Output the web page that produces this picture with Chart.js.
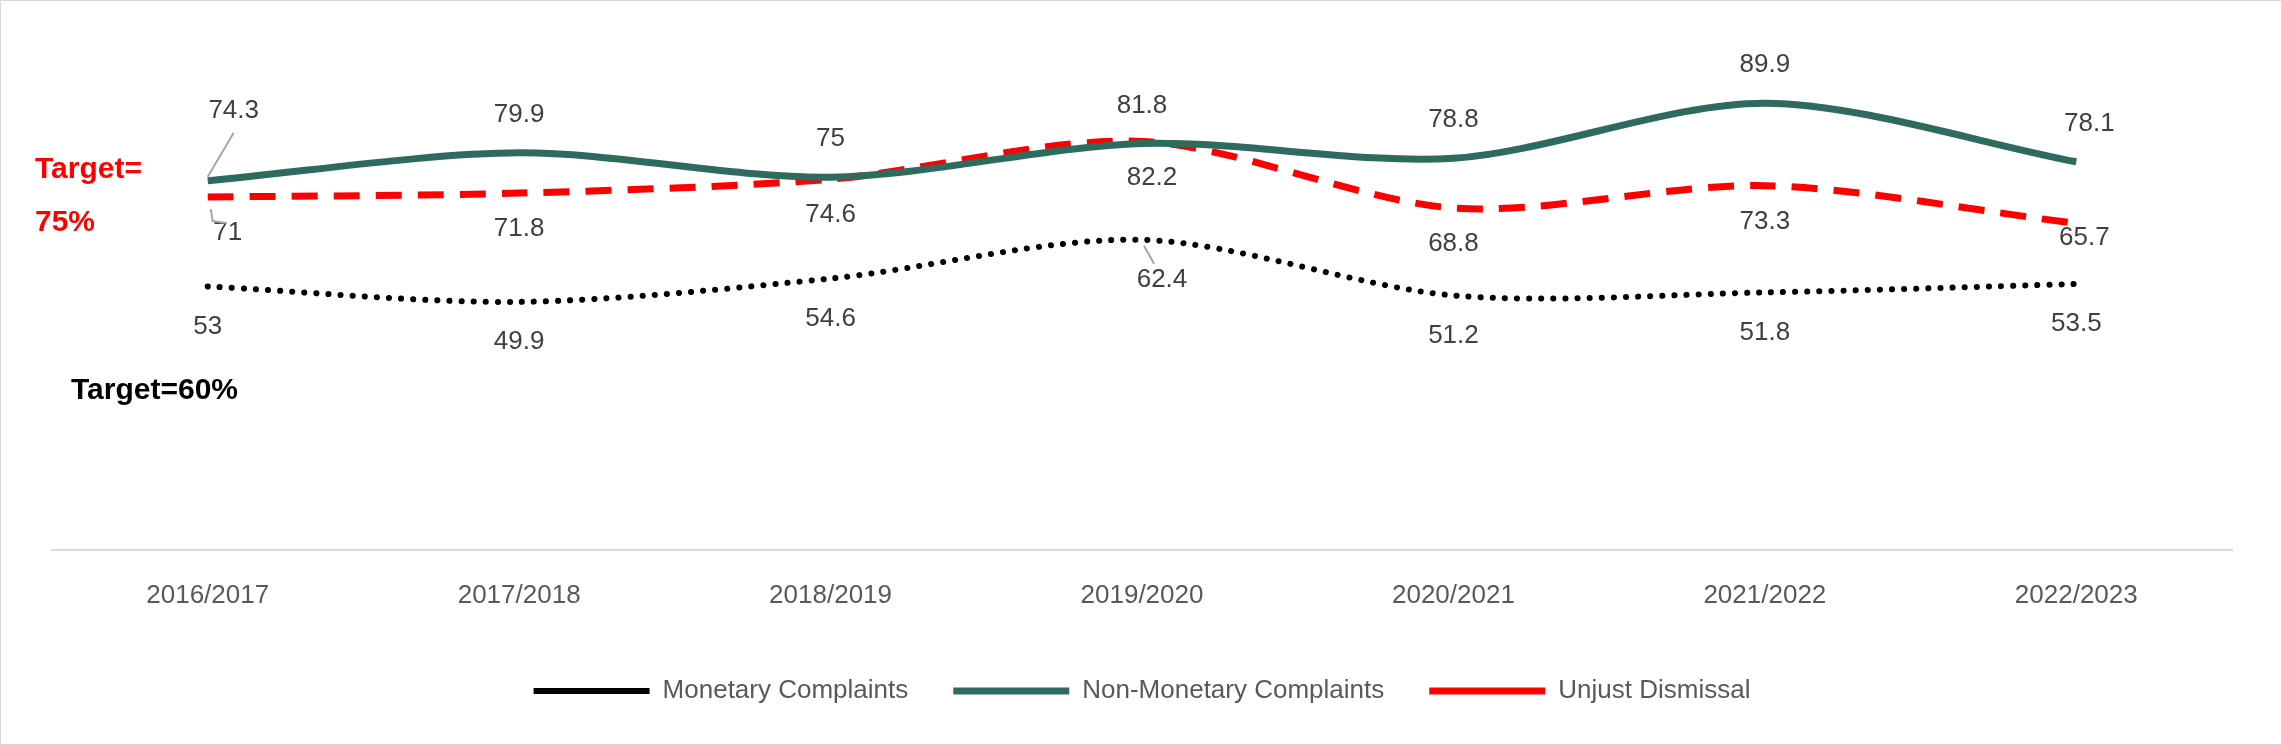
<!DOCTYPE html>
<html><head><meta charset="utf-8">
<script src="https://cdn.jsdelivr.net/npm/chart.js@4"></script>
<style>html,body{margin:0;padding:0;background:#fff}
#wrap{position:relative;width:2280px;height:743px;border:1px solid #d9d9d9}</style>
</head><body><div id="wrap"><canvas id="c" width="2280" height="743"></canvas></div>
<script>
const categories=["2016/2017","2017/2018","2018/2019","2019/2020","2020/2021","2021/2022","2022/2023"];
const monetary=[53,49.9,54.6,62.4,51.2,51.8,53.5];
const nonMonetary=[74.3,79.9,75,81.8,78.8,89.9,78.1];
const unjust=[71,71.8,74.6,82.2,68.8,73.3,65.7];
const offNon=[[0,-38],[0,-38],[0,-38],[0,-38],[0,-38],[0,-38],[0,-38]];
const offUnj=[[20,36],[0,36],[0,36],[10,36],[0,36],[0,36],[0,0]];
const offMon=[[0,40],[0,40],[0,40],[20,40],[0,40],[0,40],[0,40]];
const F='"Liberation Sans", Arial, sans-serif';
const labelPlugin={id:'lbl',afterDatasetsDraw(ch){
 const c=ch.ctx;c.save();c.font='26px '+F;c.fillStyle='#404040';c.textAlign='center';c.textBaseline='middle';
 const offs=[offMon,offNon,offUnj];
 ch.data.datasets.forEach((ds,i)=>{const m=ch.getDatasetMeta(i);
  m.data.forEach((p,j)=>{let [dx,dy]=offs[i][j];let x=p.x+dx,y=p.y+dy;
   if(i===1&&j===6){x=p.x+13;y=p.y-38;}
   if(i===2&&j===6){x=p.x+8;y=p.y+14;}
   if(i===1&&j===0){x=p.x+26;y=p.y-70;}
   c.fillText(String(ds.data[j]),x,y);});});
 const n0=ch.getDatasetMeta(1).data[0],u0=ch.getDatasetMeta(2).data[0],m3=ch.getDatasetMeta(0).data[3];
 c.strokeStyle='#a6a6a6';c.lineWidth=2;c.beginPath();
 c.moveTo(n0.x,n0.y-4);c.lineTo(n0.x+26,n0.y-48);
 c.moveTo(u0.x+3,u0.y+12);c.lineTo(u0.x+5,u0.y+24);c.lineTo(u0.x+18,u0.y+26);
 c.moveTo(m3.x+2,m3.y+6);c.lineTo(m3.x+12,m3.y+24);c.stroke();
 c.font='bold 30px '+F;c.textAlign='left';c.fillStyle='#ff0000';
 c.fillText('Target=',34,169);c.fillText('75%',34,222);
 c.fillStyle='#000';c.fillText('Target=60%',70,390);
 c.restore();}};
new Chart(document.getElementById('c'),{type:'line',
 data:{labels:categories,datasets:[
  {label:'Monetary Complaints',data:monetary,borderColor:'#000',backgroundColor:'#000',borderWidth:6,borderDash:[0.1,12],borderCapStyle:'round',pointRadius:0,tension:0.3},
  {label:'Non-Monetary Complaints',data:nonMonetary,borderColor:'#2e6b5e',backgroundColor:'#2e6b5e',borderWidth:7,pointRadius:0,tension:0.3},
  {label:'Unjust Dismissal',data:unjust,borderColor:'#ff0000',backgroundColor:'#ff0000',borderWidth:7,borderDash:[26,16],pointRadius:0,tension:0.3}]},
 options:{responsive:false,animation:false,devicePixelRatio:1,
  layout:{padding:{left:51,right:49,top:52,bottom:30}},
  scales:{y:{display:false,min:0,max:100},
   x:{offset:true,grid:{display:false},border:{color:'#d9d9d9',width:2},
      ticks:{color:'#595959',font:{size:26,family:F},padding:22}}},
  plugins:{tooltip:{enabled:false},
   legend:{position:'bottom',labels:{usePointStyle:true,pointStyle:'line',pointStyleWidth:116,color:'#595959',font:{size:26,family:F},padding:45,boxHeight:6}}}},
 plugins:[labelPlugin]});
</script></body></html>
